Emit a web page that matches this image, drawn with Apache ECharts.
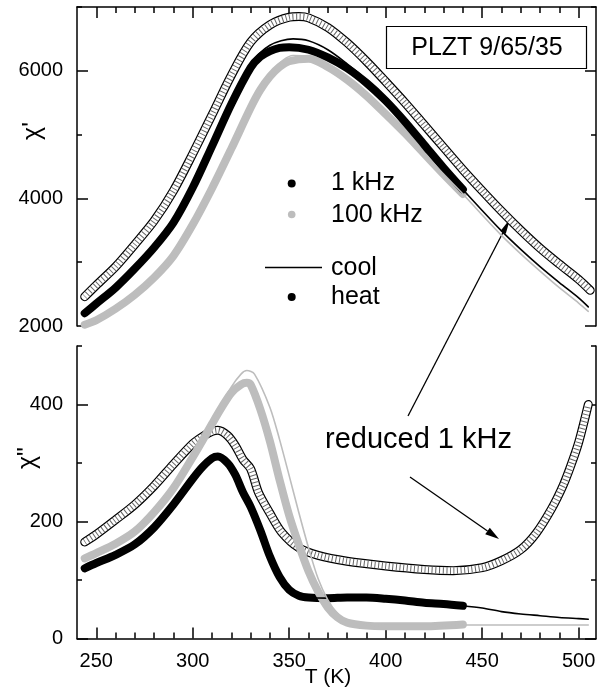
<!DOCTYPE html>
<html>
<head>
<meta charset="utf-8">
<script src="https://cdn.jsdelivr.net/npm/echarts@6/dist/echarts.min.js"></script>
<style>
html, body { margin: 0; padding: 0; background: #fff; }
#chart { width: 599px; height: 688px; }
</style>
</head>
<body>
<div id="chart"></div>
<script>
// ticks
var xMajor = [250, 300, 350, 400, 450, 500];
var xMinor = [250, 260, 270, 280, 290, 300, 310, 320, 330, 340, 350, 360, 370, 380, 390, 400, 410, 420, 430, 440, 450, 460, 470, 480, 490, 500];
var yTopMajor = [2000, 4000, 6000];
var yTopMinor = [3000, 5000, 7000];
var yBotMajor = [0, 200, 400];
var yBotMinor = [100, 300, 500];

// chi' (top panel)
var tRedTop = [244, 250, 260, 270, 280, 290, 300, 310, 320, 330, 340, 350, 355, 360, 370, 380, 390, 400, 410, 420, 430, 440, 450, 460, 470, 480, 490, 500, 506];
var redTop = [2460, 2640, 2930, 3280, 3650, 4120, 4700, 5310, 5930, 6450, 6720, 6840, 6850, 6830, 6680, 6440, 6150, 5830, 5500, 5150, 4800, 4450, 4120, 3800, 3500, 3220, 2970, 2730, 2560];
var tHeatTop = [244, 250, 260, 270, 280, 290, 300, 310, 320, 330, 335, 340, 345, 350, 360, 370, 380, 390, 400, 410, 420, 430, 440];
var heat1Top = [2200, 2350, 2600, 2900, 3230, 3620, 4170, 4820, 5480, 6050, 6220, 6310, 6360, 6370, 6330, 6210, 6040, 5810, 5530, 5200, 4840, 4480, 4140];
var heat100Top = [2020, 2090, 2270, 2490, 2760, 3100, 3590, 4160, 4780, 5420, 5700, 5910, 6060, 6150, 6190, 6060, 5860, 5610, 5320, 5020, 4700, 4380, 4070];
var tCoolTop = [244, 250, 260, 270, 280, 290, 300, 310, 320, 330, 340, 352, 360, 370, 380, 390, 400, 410, 420, 430, 440, 450, 460, 470, 480, 490, 500, 505];
var cool1Top = [2200, 2350, 2600, 2900, 3230, 3620, 4170, 4820, 5480, 6100, 6400, 6500, 6470, 6330, 6110, 5860, 5550, 5200, 4840, 4480, 4140, 3810, 3490, 3200, 2930, 2680, 2440, 2300];
var cool100Top = [2020, 2090, 2270, 2490, 2760, 3100, 3590, 4160, 4790, 5460, 5960, 6240, 6230, 6100, 5890, 5630, 5340, 5030, 4710, 4380, 4070, 3740, 3420, 3130, 2860, 2600, 2360, 2230];

// chi'' (bottom panel)
var tRedBot = [244, 250, 260, 270, 280, 290, 300, 305, 310, 313, 318, 322, 326, 330, 334, 340, 346, 355, 365, 380, 400, 420, 435, 450, 460, 470, 478, 486, 492, 496, 500, 505];
var redBot = [165, 178, 203, 229, 261, 298, 333, 345, 354, 356, 347, 330, 306, 290, 250, 214, 182, 155, 142, 132, 124, 118, 116, 121, 133, 152, 180, 222, 262, 296, 335, 400];
var tHeat1Bot = [244, 250, 260, 270, 280, 290, 300, 305, 310, 313, 318, 322, 326, 330, 335, 340, 345, 350, 355, 360, 370, 380, 390, 400, 410, 420, 430, 440];
var heat1Bot = [120, 129, 143, 161, 190, 229, 273, 293, 308, 311, 300, 280, 250, 225, 185, 140, 105, 83, 73, 70, 69, 70, 70, 68, 65, 61, 59, 56];
var tCool1Bot = [244, 250, 260, 270, 280, 290, 300, 305, 310, 313, 318, 322, 326, 330, 335, 340, 345, 350, 355, 360, 370, 380, 390, 400, 410, 420, 430, 440, 450, 460, 470, 480, 490, 500, 505];
var cool1Bot = [120, 129, 143, 161, 190, 229, 273, 293, 308, 311, 300, 280, 250, 225, 185, 140, 105, 83, 73, 70, 69, 70, 70, 68, 65, 61, 59, 56, 52, 46, 42, 39, 36, 34, 33];
var tHeat100Bot = [244, 250, 260, 270, 280, 290, 300, 305, 310, 315, 320, 325, 328, 330, 335, 340, 345, 350, 355, 360, 365, 370, 375, 380, 390, 400, 420, 440];
var heat100Bot = [137, 146, 162, 183, 216, 257, 310, 338, 367, 395, 420, 434, 437, 434, 392, 337, 271, 210, 160, 115, 80, 53, 36, 27, 22, 21, 21, 24];
var tCool100Bot = [244, 250, 260, 270, 280, 290, 300, 310, 320, 325, 328, 332, 340, 345, 350, 355, 360, 365, 370, 375, 380, 390, 400, 420, 440, 460, 480, 505];
var cool100Bot = [140, 149, 165, 186, 219, 260, 313, 372, 430, 452, 458, 452, 395, 340, 278, 215, 155, 102, 66, 43, 31, 24, 22, 22, 23, 23, 23, 23];

var GREY = '#bdbdbd';
var FONT = 'Liberation Sans, Arial, sans-serif';
var chart = echarts.init(document.getElementById('chart'));

function pairs(t, v) {
    return t.map(function (x, i) { return [x, v[i]]; });
}

function plain(v) {
    return String(v);
}

function xAxes(grid, pos, labels) {
    var base = { type: 'value', gridIndex: grid, position: pos, min: 240, max: 509, splitLine: { show: false } };
    return [
        Object.assign({}, base, {
            axisLine: { show: true, lineStyle: { color: '#000', width: 1.5 } },
            axisTick: { show: true, inside: true, length: 11, customValues: xMajor, lineStyle: { color: '#000', width: 1.5 } },
            axisLabel: { show: labels, customValues: xMajor, formatter: plain, margin: 13, color: '#000', fontSize: 20, fontFamily: FONT }
        }),
        Object.assign({}, base, {
            axisLine: { show: false },
            axisTick: { show: true, inside: true, length: 6, customValues: xMinor, lineStyle: { color: '#000', width: 1.5 } },
            axisLabel: { show: false }
        })
    ];
}

function yAxes(grid, min, max, major, minor) {
    var list = [];
    ['left', 'right'].forEach(function (pos) {
        var base = { type: 'value', gridIndex: grid, position: pos, min: min, max: max, splitLine: { show: false } };
        list.push(Object.assign({}, base, {
            axisLine: { show: true, lineStyle: { color: '#000', width: 1.5 } },
            axisTick: { show: true, inside: true, length: 11, customValues: major, lineStyle: { color: '#000', width: 1.5 } },
            axisLabel: { show: pos === 'left', customValues: major, formatter: plain, margin: 14, color: '#000', fontSize: 20, fontFamily: FONT }
        }));
        list.push(Object.assign({}, base, {
            axisLine: { show: false },
            axisTick: { show: true, inside: true, length: 5, customValues: minor, lineStyle: { color: '#000', width: 1.5 } },
            axisLabel: { show: false }
        }));
    });
    return list;
}

function line(xi, yi, data, color, width, z, dash) {
    return {
        type: 'line', xAxisIndex: xi, yAxisIndex: yi, data: data,
        showSymbol: false, smooth: 0.3, silent: true, z: z,
        lineStyle: { color: color, width: width, cap: dash ? 'butt' : 'round', join: 'round', type: dash || 'solid' }
    };
}

// open circles drawn as a hollow, hatched chain
function chain(xi, yi, data, z) {
    return [
        line(xi, yi, data, '#000', 9, z),
        line(xi, yi, data, '#fff', 6.6, z + 0.1),
        line(xi, yi, data, '#666', 6.6, z + 0.2, [1, 2.6])
    ];
}

function arrow(x1, y1, x2, y2, headLen, headW) {
    var dx = x2 - x1, dy = y2 - y1;
    var d = Math.sqrt(dx * dx + dy * dy);
    var ux = dx / d, uy = dy / d;
    var bx = x2 - ux * headLen, by = y2 - uy * headLen;
    return [
        { type: 'line', shape: { x1: x1, y1: y1, x2: bx, y2: by }, style: { stroke: '#000', lineWidth: 1.3 } },
        { type: 'polygon', shape: { points: [[x2, y2], [bx - uy * headW / 2, by + ux * headW / 2], [bx + uy * headW / 2, by - ux * headW / 2]] }, style: { fill: '#000' } }
    ];
}

function txt(x, y, s, size, align, rot) {
    return {
        type: 'text', x: x, y: y, rotation: rot || 0,
        style: { text: s, fill: '#000', font: size + 'px ' + FONT, textAlign: align || 'left', textVerticalAlign: 'middle' }
    };
}

var series = [].concat(
    chain(0, 0, pairs(tRedTop, redTop), 2),
    [line(0, 0, pairs(tHeatTop, heat100Top), GREY, 8, 3),
     line(0, 0, pairs(tHeatTop, heat1Top), '#000', 8, 4),
     line(0, 0, pairs(tCoolTop, cool100Top), GREY, 1.6, 5),
     line(0, 0, pairs(tCoolTop, cool1Top), '#000', 1.6, 6)],
    chain(2, 4, pairs(tRedBot, redBot), 2),
    [line(2, 4, pairs(tHeat1Bot, heat1Bot), '#000', 8, 3),
     line(2, 4, pairs(tHeat100Bot, heat100Bot), GREY, 8, 4),
     line(2, 4, pairs(tCool1Bot, cool1Bot), '#000', 1.6, 5),
     line(2, 4, pairs(tCool100Bot, cool100Bot), GREY, 1.6, 6)]
);

var graphics = [].concat(
    [
        txt(33, 131, "\u03c7'", 25, 'center', Math.PI / 2),
        txt(28, 458, '\u03c7"', 25, 'center', Math.PI / 2),
        txt(328, 677, 'T (K)', 21, 'center'),
        { type: 'rect', shape: { x: 386.5, y: 26.5, width: 200, height: 42 }, style: { fill: '#fff', stroke: '#000', lineWidth: 1.2 } },
        txt(487, 48, 'PLZT 9/65/35', 25, 'center'),
        { type: 'circle', shape: { cx: 291.7, cy: 183.5, r: 4 }, style: { fill: '#000' } },
        txt(331, 183.5, '1 kHz', 25),
        { type: 'circle', shape: { cx: 291.7, cy: 214.5, r: 3.8 }, style: { fill: GREY } },
        txt(331, 215, '100 kHz', 25),
        { type: 'line', shape: { x1: 265, y1: 267.5, x2: 322, y2: 267.5 }, style: { stroke: '#000', lineWidth: 1.6 } },
        txt(331, 268, 'cool', 25),
        { type: 'circle', shape: { cx: 291.7, cy: 297, r: 4 }, style: { fill: '#000' } },
        txt(331, 297, 'heat', 25),
        txt(325, 440, 'reduced 1 kHz', 29)
    ],
    arrow(408, 416, 510, 219, 15, 6),
    arrow(410, 477, 499, 539, 14, 8)
);

chart.setOption({
    animation: false,
    backgroundColor: '#fff',
    grid: [
        { left: 77, top: 7, width: 519, height: 319, outerBoundsMode: 'none' },
        { left: 77, top: 346, width: 519, height: 292.5, outerBoundsMode: 'none' }
    ],
    xAxis: [].concat(xAxes(0, 'top', false), xAxes(1, 'bottom', true)),
    yAxis: [].concat(yAxes(0, 2000, 7000, yTopMajor, yTopMinor), yAxes(1, 0, 500, yBotMajor, yBotMinor)),
    series: series,
    graphic: graphics
});
</script>
</body>
</html>
